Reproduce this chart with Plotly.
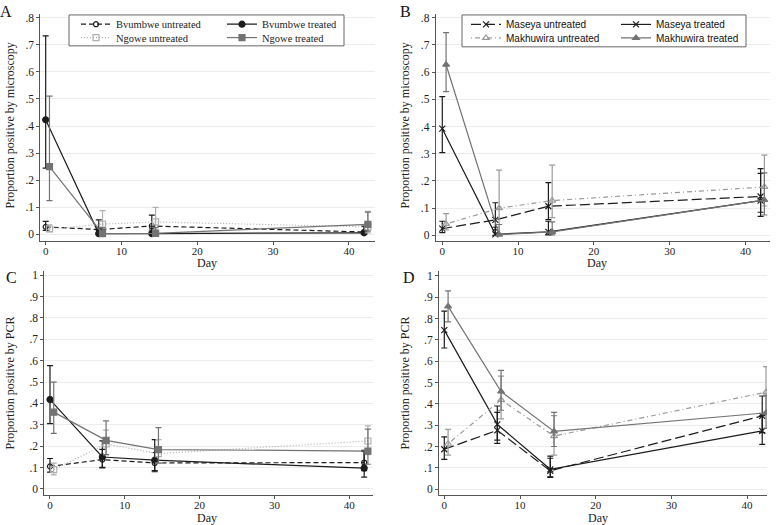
import plotly.graph_objects as go

W, H = 783, 525

# ---------------- data ----------------
days_site1 = [0, 7, 14, 42]
days_site2 = [0.5, 7.5, 14.5, 42.5]
x_tickvals = [0, 10, 20, 30, 40]
x_ticktext = ["0", "10", "20", "30", "40"]
y_ticks_micro = [0, 0.1, 0.2, 0.3, 0.4, 0.5, 0.6, 0.7, 0.8]
y_text_micro = ["0", ".1", ".2", ".3", ".4", ".5", ".6", ".7", ".8"]
y_ticks_pcr = [0, 0.1, 0.2, 0.3, 0.4, 0.5, 0.6, 0.7, 0.8, 0.9, 1.0]
y_text_pcr = ["0", ".1", ".2", ".3", ".4", ".5", ".6", ".7", ".8", ".9", "1"]

# Panel A: microscopy, Bvumbwe / Ngowe
bv_untr_mic = [0.028, 0.018, 0.031, 0.009]
bv_untr_mic_lo = [0.015, 0.005, 0.012, 0.002]
bv_untr_mic_hi = [0.048, 0.054, 0.071, 0.030]
bv_tr_mic = [0.423, 0.003, 0.003, 0.006]
bv_tr_mic_lo = [0.245, 0.0, 0.0, 0.0]
bv_tr_mic_hi = [0.733, 0.020, 0.020, 0.030]
ng_untr_mic = [0.020, 0.038, 0.046, 0.028]
ng_untr_mic_lo = [0.010, 0.012, 0.018, 0.006]
ng_untr_mic_hi = [0.035, 0.088, 0.100, 0.085]
ng_tr_mic = [0.250, 0.003, 0.004, 0.037]
ng_tr_mic_lo = [0.125, 0.0, 0.0, 0.012]
ng_tr_mic_hi = [0.510, 0.025, 0.025, 0.082]

# Panel B: microscopy, Maseya / Makhuwira
ms_untr_mic = [0.025, 0.057, 0.107, 0.143]
ms_untr_mic_lo = [0.010, 0.020, 0.058, 0.085]
ms_untr_mic_hi = [0.052, 0.120, 0.194, 0.245]
ms_tr_mic = [0.392, 0.004, 0.013, 0.128]
ms_tr_mic_lo = [0.304, 0.0, 0.002, 0.070]
ms_tr_mic_hi = [0.510, 0.030, 0.052, 0.228]
mk_untr_mic = [0.042, 0.100, 0.128, 0.178]
mk_untr_mic_lo = [0.020, 0.040, 0.065, 0.108]
mk_untr_mic_hi = [0.080, 0.240, 0.258, 0.295]
mk_tr_mic = [0.627, 0.003, 0.013, 0.130]
mk_tr_mic_lo = [0.528, 0.0, 0.002, 0.075]
mk_tr_mic_hi = [0.745, 0.040, 0.050, 0.230]

# Panel C: PCR, Bvumbwe / Ngowe
bv_untr_pcr = [0.105, 0.137, 0.121, 0.123]
bv_untr_pcr_lo = [0.078, 0.100, 0.085, 0.085]
bv_untr_pcr_hi = [0.142, 0.185, 0.170, 0.175]
bv_tr_pcr = [0.418, 0.149, 0.134, 0.097]
bv_tr_pcr_lo = [0.305, 0.098, 0.080, 0.055]
bv_tr_pcr_hi = [0.577, 0.225, 0.230, 0.180]
ng_untr_pcr = [0.090, 0.210, 0.165, 0.224]
ng_untr_pcr_lo = [0.065, 0.160, 0.120, 0.160]
ng_untr_pcr_hi = [0.120, 0.275, 0.230, 0.295]
ng_tr_pcr = [0.359, 0.227, 0.184, 0.177]
ng_tr_pcr_lo = [0.260, 0.160, 0.120, 0.115]
ng_tr_pcr_hi = [0.500, 0.318, 0.287, 0.280]

# Panel D: PCR, Maseya / Makhuwira
ms_untr_pcr = [0.187, 0.276, 0.086, 0.344]
ms_untr_pcr_lo = [0.140, 0.215, 0.055, 0.265]
ms_untr_pcr_hi = [0.245, 0.360, 0.145, 0.437]
ms_tr_pcr = [0.746, 0.304, 0.093, 0.273]
ms_tr_pcr_lo = [0.662, 0.230, 0.058, 0.210]
ms_tr_pcr_hi = [0.835, 0.390, 0.155, 0.345]
mk_untr_pcr = [0.213, 0.419, 0.249, 0.455]
mk_untr_pcr_lo = [0.160, 0.330, 0.160, 0.360]
mk_untr_pcr_hi = [0.280, 0.530, 0.345, 0.575]
mk_tr_pcr = [0.857, 0.458, 0.271, 0.358]
mk_tr_pcr_lo = [0.785, 0.370, 0.200, 0.285]
mk_tr_pcr_hi = [0.930, 0.557, 0.360, 0.440]

# ---------------- styles ----------------
SERIF = "Liberation Serif, Times New Roman, serif"
SANS = "Liberation Sans, Arial, sans-serif"
BLACK = "#1c1c1c"
DGRAY = "#737373"
LGRAY = "#b0b0b0"
MGRAY = "#9a9a9a"

STY = {
    "bv_untr": dict(color=BLACK, dash="5px,3px", symbol="circle-open", size=5, ecolor=BLACK),
    "bv_tr": dict(color=BLACK, dash="solid", symbol="circle", size=6, ecolor=BLACK),
    "ng_untr": dict(color=LGRAY, dash="1px,2px", symbol="square-open", size=6, ecolor=LGRAY),
    "ng_tr": dict(color=DGRAY, dash="solid", symbol="square", size=6, ecolor=DGRAY),
    "ms_untr": dict(color=BLACK, dash="10px,4px", symbol="x-thin-open", size=6, ecolor=BLACK),
    "ms_tr": dict(color=BLACK, dash="solid", symbol="x-thin-open", size=6, ecolor=BLACK),
    "mk_untr": dict(color=MGRAY, dash="1px,3px,5px,3px", symbol="triangle-up-open", size=6, ecolor=MGRAY),
    "mk_tr": dict(color=DGRAY, dash="solid", symbol="triangle-up", size=6, ecolor=DGRAY),
}

fig = go.Figure()


def add_series(x, y, lo, hi, key, name, xa, ya, legend=None, showlegend=False):
    s = STY[key]
    fig.add_trace(go.Scatter(
        x=x, y=y, name=name, mode="lines+markers",
        xaxis=xa, yaxis=ya,
        line=dict(color=s["color"], width=1.2, dash=s["dash"]),
        marker=dict(symbol=s["symbol"], size=s["size"], color=s["color"],
                    line=dict(color=s["color"], width=1.2)),
        error_y=dict(type="data", symmetric=False,
                     array=[h - v for h, v in zip(hi, y)],
                     arrayminus=[v - l for l, v in zip(lo, y)],
                     color=s["ecolor"], thickness=1.2, width=3),
        showlegend=showlegend,
        legend=legend if legend else "legend",
    ))


# Panel A
add_series(days_site1, bv_untr_mic, bv_untr_mic_lo, bv_untr_mic_hi, "bv_untr", "Bvumbwe untreated", "x", "y", "legend", True)
add_series(days_site1, bv_tr_mic, bv_tr_mic_lo, bv_tr_mic_hi, "bv_tr", "Bvumbwe treated", "x", "y", "legend", True)
add_series(days_site2, ng_untr_mic, ng_untr_mic_lo, ng_untr_mic_hi, "ng_untr", "Ngowe untreated", "x", "y", "legend2", True)
add_series(days_site2, ng_tr_mic, ng_tr_mic_lo, ng_tr_mic_hi, "ng_tr", "Ngowe treated", "x", "y", "legend2", True)
# Panel B
add_series(days_site1, ms_untr_mic, ms_untr_mic_lo, ms_untr_mic_hi, "ms_untr", "Maseya untreated", "x2", "y2", "legend3", True)
add_series(days_site1, ms_tr_mic, ms_tr_mic_lo, ms_tr_mic_hi, "ms_tr", "Maseya treated", "x2", "y2", "legend3", True)
add_series(days_site2, mk_untr_mic, mk_untr_mic_lo, mk_untr_mic_hi, "mk_untr", "Makhuwira untreated", "x2", "y2", "legend4", True)
add_series(days_site2, mk_tr_mic, mk_tr_mic_lo, mk_tr_mic_hi, "mk_tr", "Makhuwira treated", "x2", "y2", "legend4", True)
# Panel C
add_series(days_site1, bv_untr_pcr, bv_untr_pcr_lo, bv_untr_pcr_hi, "bv_untr", "Bvumbwe untreated", "x3", "y3")
add_series(days_site1, bv_tr_pcr, bv_tr_pcr_lo, bv_tr_pcr_hi, "bv_tr", "Bvumbwe treated", "x3", "y3")
add_series(days_site2, ng_untr_pcr, ng_untr_pcr_lo, ng_untr_pcr_hi, "ng_untr", "Ngowe untreated", "x3", "y3")
add_series(days_site2, ng_tr_pcr, ng_tr_pcr_lo, ng_tr_pcr_hi, "ng_tr", "Ngowe treated", "x3", "y3")
# Panel D
add_series(days_site1, ms_untr_pcr, ms_untr_pcr_lo, ms_untr_pcr_hi, "ms_untr", "Maseya untreated", "x4", "y4")
add_series(days_site1, ms_tr_pcr, ms_tr_pcr_lo, ms_tr_pcr_hi, "ms_tr", "Maseya treated", "x4", "y4")
add_series(days_site2, mk_untr_pcr, mk_untr_pcr_lo, mk_untr_pcr_hi, "mk_untr", "Makhuwira untreated", "x4", "y4")
add_series(days_site2, mk_tr_pcr, mk_tr_pcr_lo, mk_tr_pcr_hi, "mk_tr", "Makhuwira treated", "x4", "y4")


def px_x(p):
    return p / W


def px_y(p):
    return 1 - p / H


axis_common = dict(
    showline=True, linecolor="#555555", linewidth=1,
    ticks="outside", ticklen=3, tickcolor="#555555", tickwidth=1,
    tickfont=dict(family=SERIF, size=11.5, color="#222222"),
    zeroline=False, mirror=False,
)

xcommon = dict(axis_common, showgrid=False, tickvals=x_tickvals, ticktext=x_ticktext,
               ticklabelstandoff=-3, tickfont=dict(family=SERIF, size=11, color="#222222"))
ycommon = dict(axis_common, showgrid=True, gridcolor="#ececec", gridwidth=1)

fig.update_layout(
    xaxis=dict(xcommon, domain=[px_x(40.3), px_x(375)], range=[-0.71, 43.44], anchor="y"),
    yaxis=dict(ycommon, domain=[px_y(240), px_y(12)], range=[-0.0246, 0.8136], anchor="x",
               tickvals=y_ticks_micro, ticktext=y_text_micro),
    xaxis2=dict(xcommon, domain=[px_x(435.7), px_x(770)], range=[-0.87, 43.24], anchor="y2"),
    yaxis2=dict(ycommon, domain=[px_y(240), px_y(12)], range=[-0.0209, 0.8135], anchor="x2",
                tickvals=y_ticks_micro, ticktext=y_text_micro),
    xaxis3=dict(xcommon, domain=[px_x(44.3), px_x(373)], range=[-0.76, 43.18], anchor="y3"),
    yaxis3=dict(ycommon, domain=[px_y(495), px_y(270)], range=[-0.0294, 1.020], anchor="x3",
                tickvals=y_ticks_pcr, ticktext=y_text_pcr),
    xaxis4=dict(xcommon, domain=[px_x(439), px_x(767)], range=[-0.70, 42.63], anchor="y4"),
    yaxis4=dict(ycommon, domain=[px_y(495), px_y(270)], range=[-0.028, 1.0234], anchor="x4",
                tickvals=y_ticks_pcr, ticktext=y_text_pcr),
)

leg_common = dict(orientation="h", bgcolor="rgba(0,0,0,0)", borderwidth=0,
                  xanchor="left", yanchor="middle", entrywidthmode="pixels",
                  itemclick=False, itemdoubleclick=False, tracegroupgap=0)
fig.update_layout(
    legend=dict(leg_common, x=px_x(76), y=px_y(22.3), entrywidth=101,
                font=dict(family=SERIF, size=10.5, color="#222222")),
    legend2=dict(leg_common, x=px_x(76), y=px_y(35.7), entrywidth=101,
                 font=dict(family=SERIF, size=10.5, color="#222222")),
    legend3=dict(leg_common, x=px_x(466), y=px_y(22.5), entrywidth=105,
                 font=dict(family=SANS, size=10, color="#111111")),
    legend4=dict(leg_common, x=px_x(466), y=px_y(36), entrywidth=105,
                 font=dict(family=SANS, size=10, color="#111111")),
)

# legend frames
fig.add_shape(type="rect", xref="paper", yref="paper",
              x0=px_x(69), x1=px_x(344), y0=px_y(44), y1=px_y(13),
              line=dict(color="#666666", width=1), fillcolor="white", layer="above")
fig.add_shape(type="rect", xref="paper", yref="paper",
              x0=px_x(462), x1=px_x(746), y0=px_y(45), y1=px_y(13),
              line=dict(color="#666666", width=1), fillcolor="white", layer="above")

ann = []
# panel letters
for t, x, y in [("A", 6, 10), ("B", 405, 10), ("C", 11, 277), ("D", 409, 277)]:
    ann.append(dict(text=t, x=px_x(x), y=px_y(y), xref="paper", yref="paper",
                    showarrow=False, font=dict(family=SERIF, size=16, color="#111111"),
                    xanchor="center", yanchor="middle"))
# y titles
for t, x, y in [("Proportion positive by microscopy", 10, 124),
                ("Proportion positive by microscopy", 405, 124),
                ("Proportion positive by PCR", 10, 383),
                ("Proportion positive by PCR", 405, 383)]:
    ann.append(dict(text=t, x=px_x(x), y=px_y(y), xref="paper", yref="paper",
                    showarrow=False, textangle=-90,
                    font=dict(family=SERIF, size=12, color="#222222"),
                    xanchor="center", yanchor="middle"))
# x titles
for x, y in [(207, 262), (597, 262), (207, 517.5), (598, 517.5)]:
    ann.append(dict(text="Day", x=px_x(x), y=px_y(y), xref="paper", yref="paper",
                    showarrow=False, font=dict(family=SERIF, size=12, color="#222222"),
                    xanchor="center", yanchor="middle"))

fig.update_layout(
    width=W, height=H, margin=dict(l=0, r=0, t=0, b=0),
    paper_bgcolor="white", plot_bgcolor="white",
    annotations=ann,
)

fig.write_html("out.html", config={"displayModeBar": False},
               post_script="document.body.style.margin='0px';document.body.style.padding='0px';")
